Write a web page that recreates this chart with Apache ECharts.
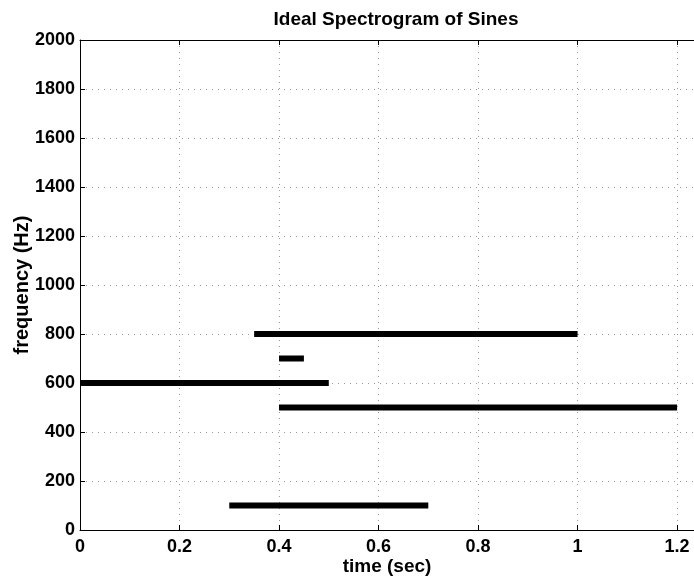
<!DOCTYPE html>
<html>
<head>
<meta charset="utf-8">
<script src="https://cdn.jsdelivr.net/npm/echarts@6/dist/echarts.min.js"></script>
<style>html,body{margin:0;padding:0;background:#fff}#c{width:694px;height:579px}</style>
</head>
<body>
<div id="c"></div>
<script>
// Sine components: frequency (Hz), start time (s), end time (s)
const freqs = [800, 700, 600, 500, 100];
const starts = [0.35, 0.4, 0.0, 0.4, 0.3];
const ends = [1.0, 0.45, 0.5, 1.2, 0.7];
const xTicks = [0, 0.2, 0.4, 0.6, 0.8, 1, 1.2];
const yTicks = [0, 200, 400, 600, 800, 1000, 1200, 1400, 1600, 1800, 2000];

const FONT = 'Liberation Sans';
const chart = echarts.init(document.getElementById('c'));
const series = freqs.map((f, i) => ({
  type: 'line',
  data: [[starts[i], f], [ends[i], f]],
  symbol: 'none',
  lineStyle: { color: '#000', width: 6, cap: 'butt' },
  silent: true,
  animation: false
}));
function isTick(v, arr) { return arr.some(t => Math.abs(t - v) < 1e-6); }
chart.setOption({
  animation: false,
  title: {
    text: 'Ideal Spectrogram of Sines',
    left: 391, top: 5, textAlign: 'center',
    textStyle: { fontFamily: FONT, fontWeight: 'bold', fontSize: 19, color: '#000' }
  },
  grid: { left: 80, right: 0, top: 40, bottom: 49, show: false, containLabel: false, outerBoundsMode: 'none' },
  xAxis: [{
    type: 'value', min: 0, max: 1.234, interval: 0.2,
    name: 'time (sec)', nameLocation: 'middle', nameGap: 27, nameMoveOverlap: false,
    nameTextStyle: { fontFamily: FONT, fontWeight: 'bold', fontSize: 19, color: '#000' },
    axisLine: { show: true, lineStyle: { color: '#000', width: 1 } },
    axisTick: { show: true, inside: true, length: 5, lineStyle: { color: '#000' } },
    axisLabel: {
      showMaxLabel: false, margin: 8,
      fontFamily: FONT, fontWeight: 'bold', fontSize: 18, color: '#000',
      formatter: v => isTick(v, xTicks) ? String(+v.toFixed(1)) : ''
    },
    splitLine: { show: true, lineStyle: { color: '#999', type: [1, 5], width: 1 } }
  }, {
    type: 'value', min: 0, max: 1.234, interval: 0.2, position: 'top',
    axisLine: { show: true, lineStyle: { color: '#000', width: 1 } },
    axisTick: { show: true, inside: true, length: 5, lineStyle: { color: '#000' } },
    axisLabel: { show: false },
    splitLine: { show: false }
  }],
  yAxis: {
    type: 'value', min: 0, max: 2000, interval: 200,
    name: 'frequency (Hz)', nameLocation: 'middle', nameGap: 48, nameMoveOverlap: false,
    nameTextStyle: { fontFamily: FONT, fontWeight: 'bold', fontSize: 20, color: '#000' },
    axisLine: { show: true, lineStyle: { color: '#000', width: 1 } },
    axisTick: { show: true, inside: true, length: 5, lineStyle: { color: '#000' } },
    axisLabel: {
      margin: 5, fontFamily: FONT, fontWeight: 'bold', fontSize: 18, color: '#000',
      formatter: v => isTick(v, yTicks) ? String(v) : ''
    },
    splitLine: { show: true, lineStyle: { color: '#999', type: [1, 5], width: 1 } }
  },
  series: series
});
</script>
</body>
</html>
